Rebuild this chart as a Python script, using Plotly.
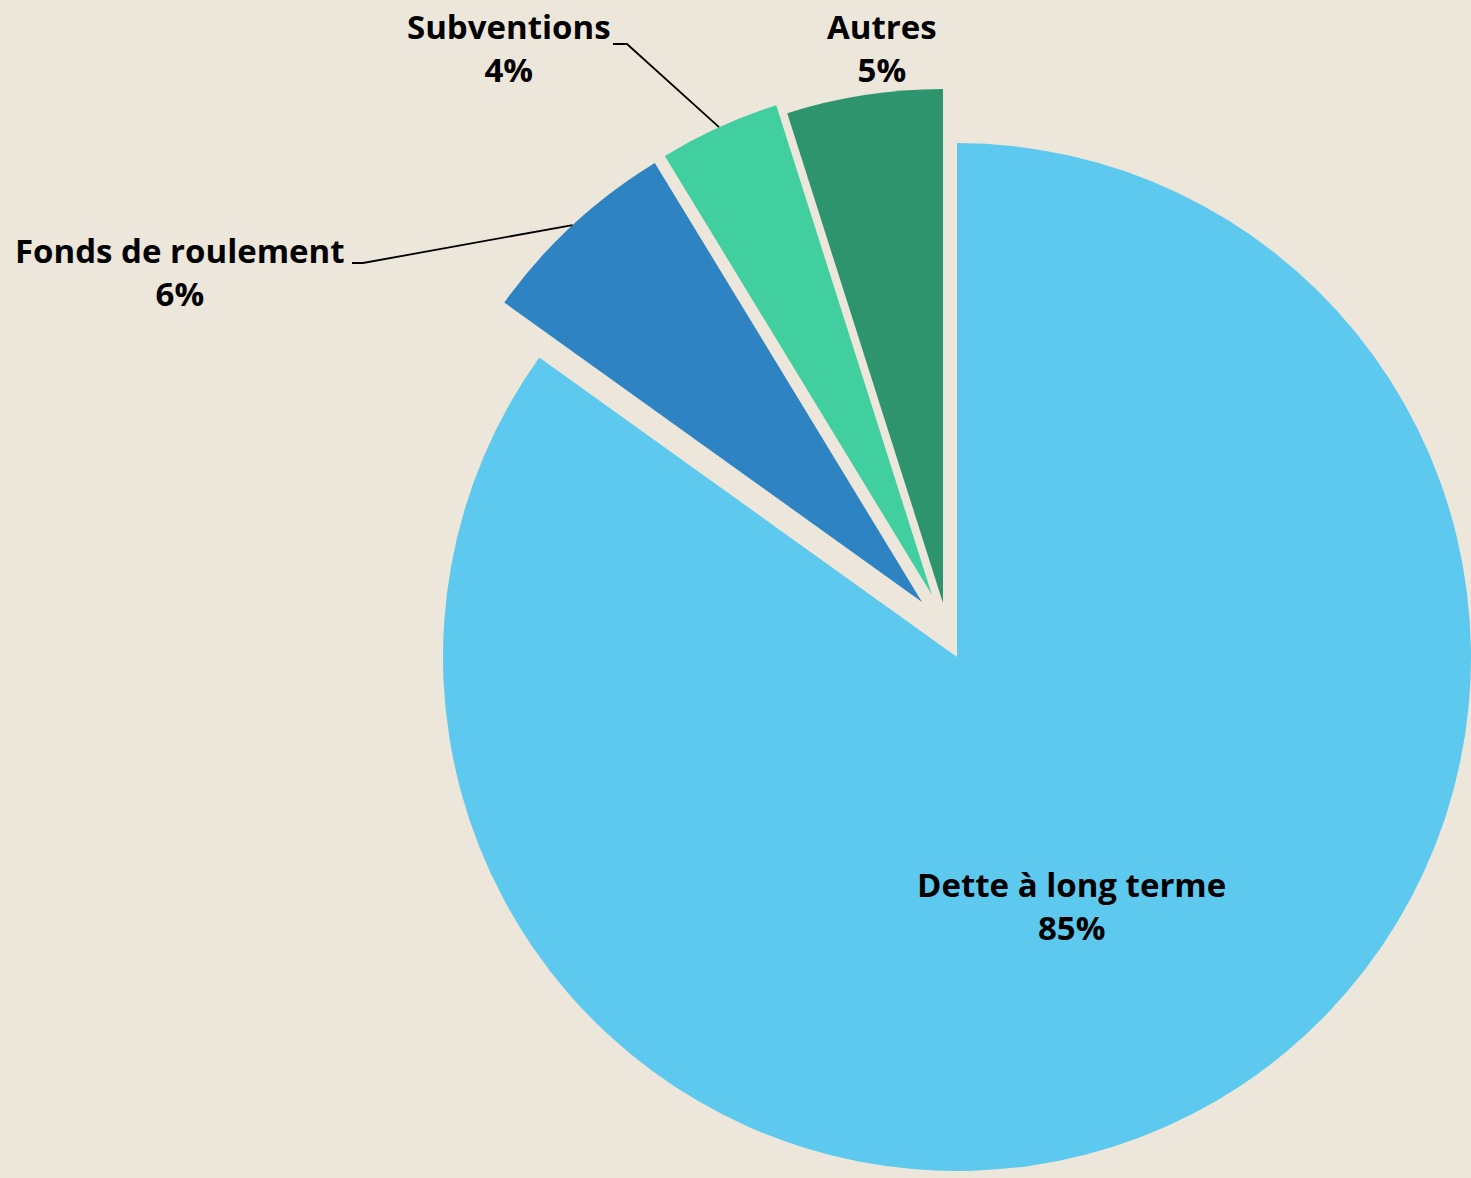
import math
import plotly.graph_objects as go

# ---- data ----
labels = ["Dette à long terme", "Fonds de roulement", "Subventions", "Autres"]
values = [84.9, 6.4, 3.8, 4.9]

# ---- style ----
colors = ["#5DC9EE", "#2E83C3", "#42CFA0", "#2E946D"]
bg = "#ECE6DB"
FONT = dict(family="'Open Sans', Lato, sans-serif", size=33, color="black", weight=700)

W, H = 1471, 1178
R = 514                      # pie radius in px
CX, CY = W - R, 657          # centre of the main pie (px)
# explosion offsets (px) of each slice from the main centre
offsets = [(0, 0), (-35, -55), (-25, -62), (-14, -54)]

fig = go.Figure()
for i, (dx, dy) in enumerate(offsets):
    cx, cy = CX + dx, CY + dy
    x0 = max(0.0, (cx - R) / W)
    x1 = min(1.0, (cx + R) / W)
    y0 = max(0.0, (H - cy - R) / H)
    y1 = min(1.0, (H - cy + R) / H)
    cols = [colors[j] if j == i else "rgba(0,0,0,0)" for j in range(len(values))]
    fig.add_trace(go.Pie(
        labels=labels, values=values, sort=False, direction="clockwise", rotation=0,
        marker=dict(colors=cols, line=dict(width=0)),
        textinfo="none", hoverinfo="skip", showlegend=False,
        domain=dict(x=[x0, x1], y=[y0, y1]),
    ))

total = sum(values)
pcts = [f"{round(v / total * 100)}%" for v in values]

def px2paper(x, y):
    return x / W, 1 - y / H

# label positions (px, centre of the two-line label)
label_pos = [(1071, 906), (180, 272), (509, 48), (882, 48)]
for i, (lx, ly) in enumerate(label_pos):
    px_, py_ = px2paper(lx, ly)
    fig.add_annotation(x=px_, y=py_, xref="paper", yref="paper",
                       text=f"{labels[i]}<br>{pcts[i]}", showarrow=False,
                       xanchor="center", yanchor="middle", font=FONT, align="center")

# leader lines: from text side to the middle of the slice's outer arc
cum = 0
mids = []
for v in values:
    mids.append((cum + v / 2) / total * 2 * math.pi)
    cum += v

leader_starts = {1: [(352, 263), (363, 263)], 2: [(613, 44), (627, 44)]}
for i, pts in leader_starts.items():
    dx, dy = offsets[i]
    ex = CX + dx + R * math.sin(mids[i])
    ey = CY + dy - R * math.cos(mids[i])
    allpts = pts + [(ex, ey)]
    path = ""
    for k, (x, y) in enumerate(allpts):
        u, w = px2paper(x, y)
        path += ("M" if k == 0 else " L") + f" {u:.5f} {w:.5f}"
    fig.add_shape(type="path", path=path, xref="paper", yref="paper",
                  line=dict(color="black", width=1.8))

fig.update_layout(
    width=W, height=H, autosize=False,
    margin=dict(l=0, r=0, t=0, b=0),
    paper_bgcolor=bg, plot_bgcolor=bg,
)

fig.write_html(
    "out.html",
    config={"displayModeBar": False},
    post_script="document.body.style.margin='0';document.body.style.padding='0';"
                "document.documentElement.style.overflow='hidden';"
                "document.body.style.background='" + bg + "';",
)
